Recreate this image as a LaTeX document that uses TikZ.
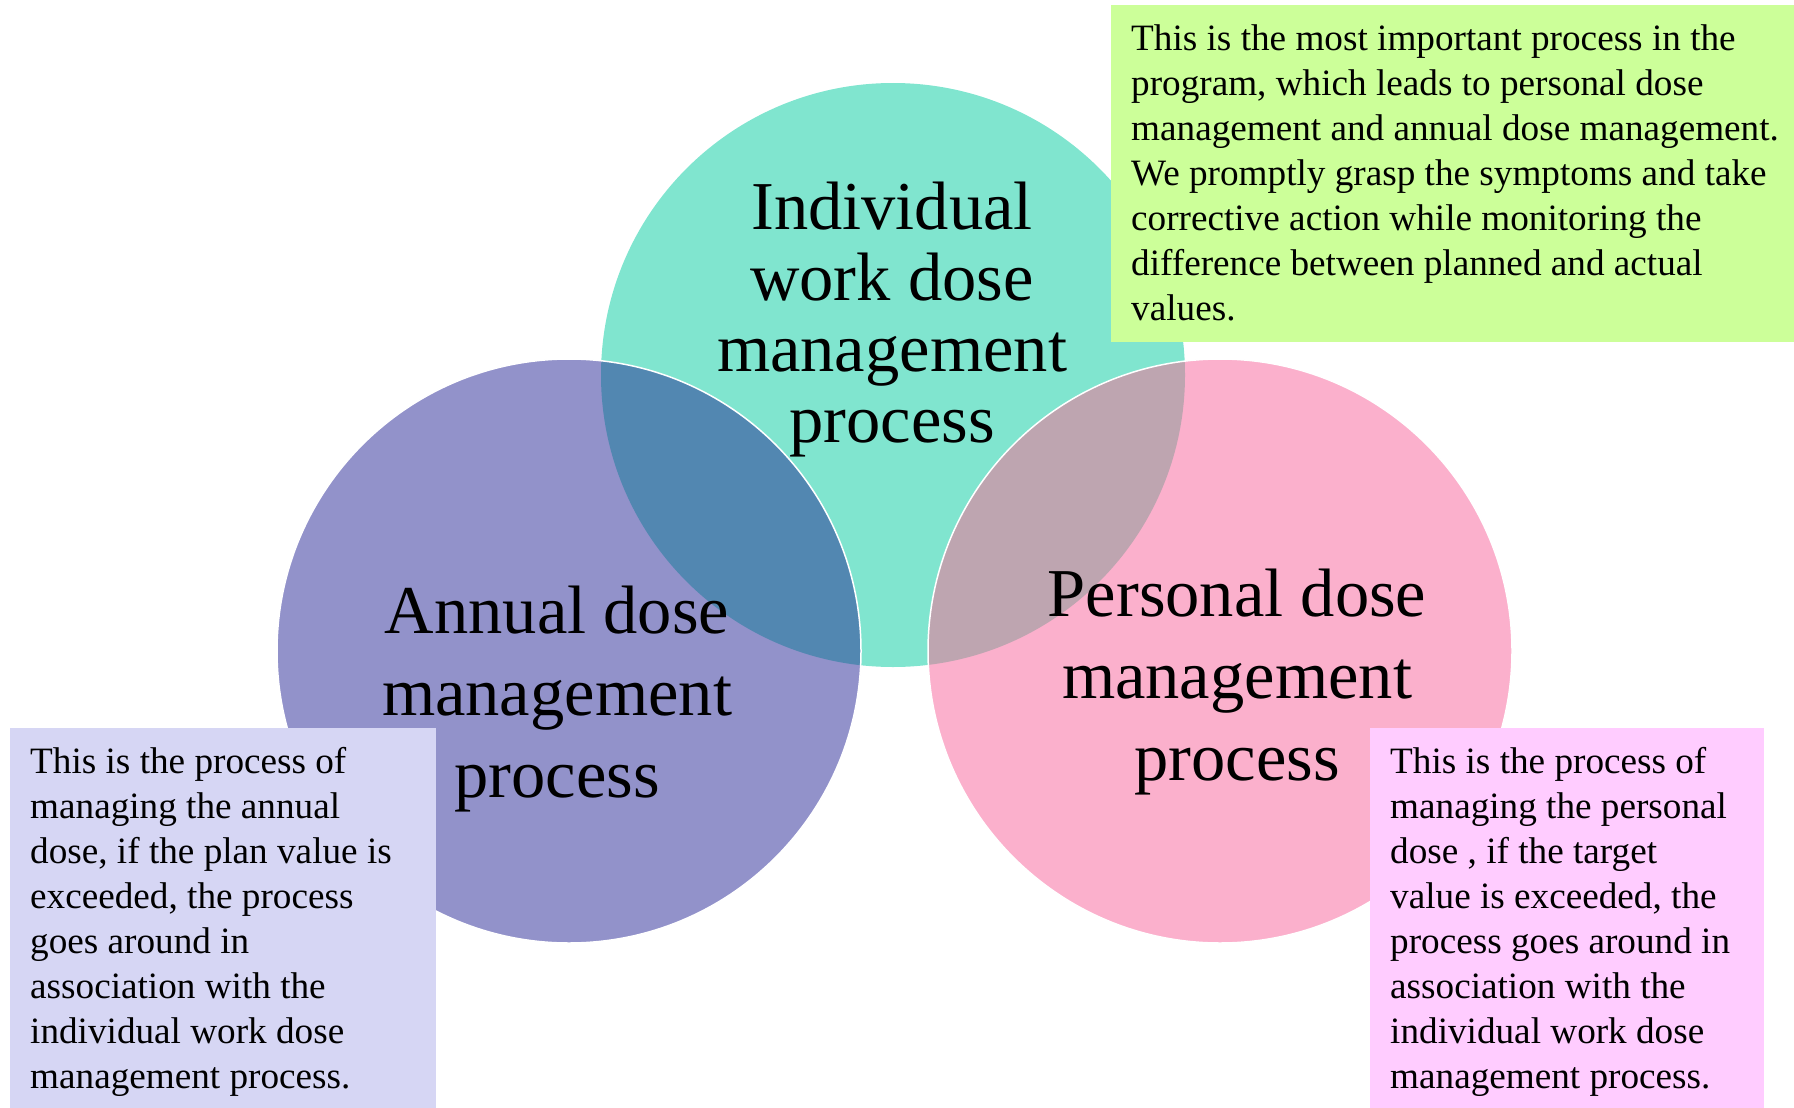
\documentclass[tikz,border=0pt]{standalone}
\usepackage{fontspec}
\setmainfont{Liberation Serif}
\usetikzlibrary{positioning}

\definecolor{workcol}{HTML}{80E5CF}
\definecolor{annualcol}{HTML}{9292CA}
\definecolor{personalcol}{HTML}{FBB0CC}
\definecolor{annualmix}{HTML}{5287B1}
\definecolor{personalmix}{HTML}{BEA5B0}
\definecolor{workbox}{HTML}{CCFF99}
\definecolor{annualbox}{HTML}{D6D6F4}
\definecolor{personalbox}{HTML}{FFCCFF}

\begin{document}
\begin{tikzpicture}[x=1pt, y=-1pt,
    disc/.style={circle, minimum size=584pt, inner sep=0pt},
    title/.style={align=center, anchor=north, inner sep=0pt, font=\fontsize{68.5}{82}\selectfont},
    panel/.style={anchor=north west, inner sep=0pt},
    note/.style={align=left, anchor=north west, inner sep=0pt, font=\fontsize{37.2}{45}\selectfont}]
    \useasboundingbox (0,0) rectangle (1794,1108);

    \node[disc, fill=workcol] (work) at (893,375) {};
    \node[disc, fill=annualcol] (annual) at (569,651) {};
    \node[disc, fill=personalcol] (personal) at (1220,651) {};

    % overlaps
    \begin{scope}
        \clip (work.center) circle (292pt);
        \fill[annualmix] (annual.center) circle (292pt);
        \fill[personalmix] (personal.center) circle (292pt);
    \end{scope}
    \draw[white, line width=1.5pt] (annual.center) circle (292pt) (personal.center) circle (292pt);

    \node[panel, fill=workbox, minimum width=683pt, minimum height=337pt] (worknote) at (1111,5) {};
    \node[panel, fill=annualbox, minimum width=426pt, minimum height=380pt] (annualnote) at (10,728) {};
    \node[panel, fill=personalbox, minimum width=394pt, minimum height=380pt] (personalnote) at (1370,728) {};

    \node[note, below right=19.6pt and 20pt of worknote.north west] (worktext)
        {This is the most important process in the\\
         program, which leads to personal dose\\
         management and annual dose management.\\
         We promptly grasp the symptoms and take\\
         corrective action while monitoring the\\
         difference between planned and actual\\
         values.};
    \node[note, below right=18.6pt and 20pt of annualnote.north west] (annualtext)
        {This is the process of\\
         managing the annual\\
         dose, if the plan value is\\
         exceeded, the process\\
         goes around in\\
         association with the\\
         individual work dose\\
         management process.};
    \node[note, below right=18.6pt and 20pt of personalnote.north west] (personaltext)
        {This is the process of\\
         managing the personal\\
         dose , if the target\\
         value is exceeded, the\\
         process goes around in\\
         association with the\\
         individual work dose\\
         management process.};

    \node[title, font=\fontsize{68.5}{71}\selectfont] (worktitle) at (892,182.2)
        {Individual\\work dose\\management\\process};
    \node[title] (annualtitle) at (557,586.2) {Annual dose\\management\\process};
    \node[title] (personaltitle) at (1237,569.2) {Personal dose\\management\\process};

\end{tikzpicture}
\end{document}
